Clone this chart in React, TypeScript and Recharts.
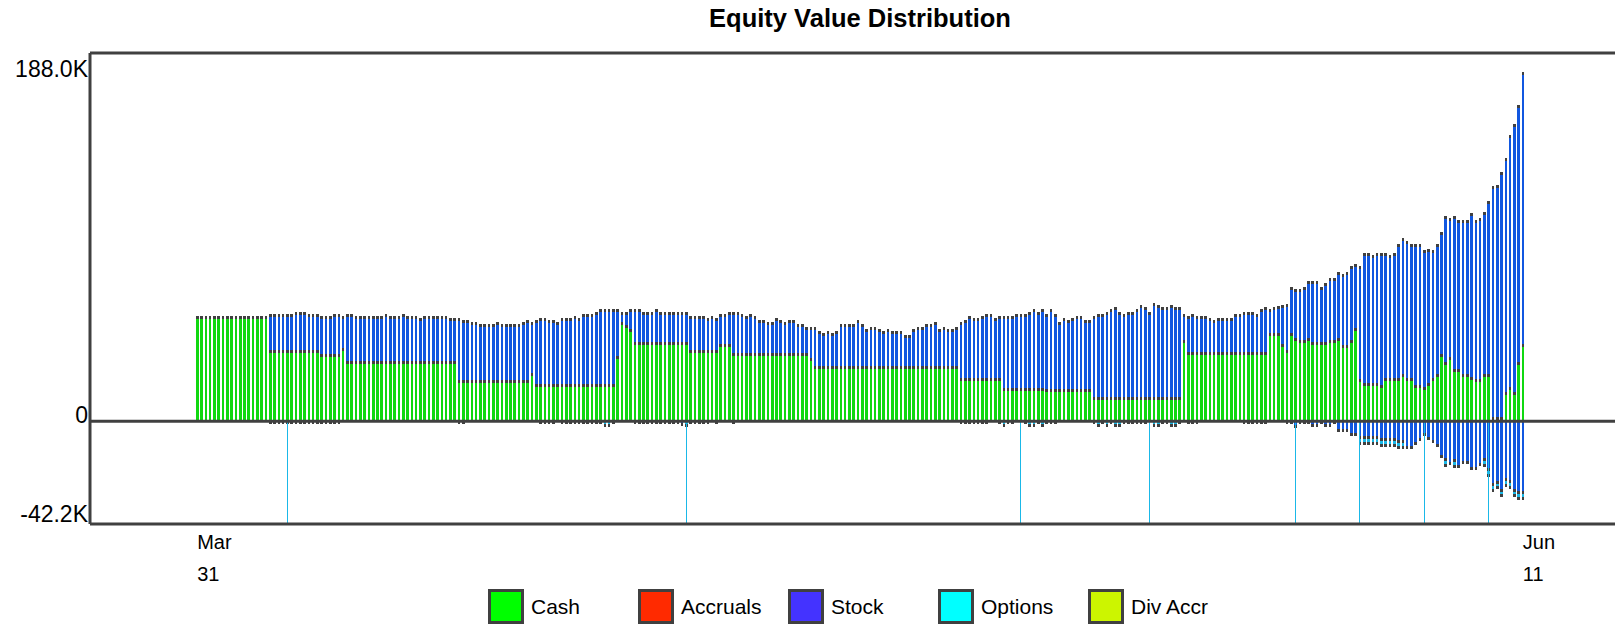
import { BarChart, Bar, XAxis, YAxis, ReferenceLine } from "recharts";

// values in thousands, one entry per bar (Mar 31 .. Jun 11)
const CASH = [
  56.6, 56.6, 56.6, 56.6, 56.6, 56.6, 56.6, 56.6, 56.6, 56.6, // 0
  56.6, 56.6, 56.6, 56.6, 56.6, 56.6, 56.6, 38.3, 38.3, 38.3, // 10
  38.3, 38.3, 38.3, 38.3, 38.3, 38.3, 38.3, 38.3, 38.3, 36.1, // 20
  36.1, 36.1, 36.1, 36.1, 39.4, 32.3, 32.3, 32.3, 32.3, 32.3, // 30
  32.3, 32.3, 32.3, 32.3, 32.3, 32.3, 32.3, 32.3, 32.3, 32.3, // 40
  32.3, 32.3, 32.3, 32.3, 32.3, 32.3, 32.3, 32.3, 32.3, 32.3, // 50
  32.3, 22.1, 22.1, 22.1, 22.1, 22.1, 22.1, 22.1, 22.1, 22.1, // 60
  22.1, 22.1, 22.1, 22.1, 22.1, 22.1, 22.1, 22.1, 25.9, 19.9, // 70
  19.9, 19.9, 19.9, 19.9, 19.9, 19.9, 19.9, 19.9, 19.9, 19.9, // 80
  19.9, 19.9, 19.9, 19.9, 19.9, 19.9, 19.9, 19.9, 35.0, 53.4, // 90
  52.0, 49.6, 42.8, 42.8, 42.8, 42.8, 42.8, 42.8, 42.8, 42.8, // 100
  42.8, 42.8, 42.8, 42.8, 42.8, 38.3, 38.3, 38.3, 38.3, 38.3, // 110
  38.3, 38.3, 41.5, 41.5, 41.5, 37.0, 37.0, 37.0, 37.0, 37.0, // 120
  37.0, 37.0, 37.0, 37.0, 37.0, 37.0, 37.0, 37.0, 37.0, 37.0, // 130
  37.0, 37.0, 37.0, 34.0, 29.6, 29.6, 29.6, 29.6, 29.6, 29.6, // 140
  29.6, 29.6, 29.6, 29.6, 29.6, 29.6, 29.6, 29.6, 29.6, 29.6, // 150
  29.6, 29.6, 29.6, 29.6, 29.6, 29.6, 29.6, 29.6, 29.6, 29.6, // 160
  29.6, 29.6, 29.6, 29.6, 29.6, 29.6, 29.6, 29.6, 23.2, 23.2, // 170
  23.2, 23.2, 23.2, 23.2, 23.2, 23.2, 23.2, 23.2, 17.8, 17.8, // 180
  17.8, 17.8, 17.8, 17.8, 17.8, 17.8, 17.8, 17.8, 17.5, 17.5, // 190
  17.5, 17.5, 17.5, 17.5, 17.5, 17.5, 17.5, 17.5, 17.5, 12.8, // 200
  12.8, 12.8, 12.8, 12.8, 12.8, 12.8, 12.8, 12.8, 12.8, 12.8, // 210
  12.8, 12.8, 12.8, 12.8, 12.8, 12.8, 12.8, 12.8, 12.8, 12.8, // 220
  43.7, 37.2, 37.2, 37.2, 37.2, 37.2, 37.2, 37.2, 37.2, 37.2, // 230
  37.2, 37.2, 37.2, 37.2, 37.2, 37.2, 37.2, 37.2, 37.2, 37.2, // 240
  47.4, 47.4, 47.4, 41.5, 38.3, 47.3, 44.9, 43.7, 43.7, 44.9, // 250
  42.8, 42.8, 42.8, 42.8, 43.7, 43.7, 44.9, 41.0, 41.0, 43.7, // 260
  50.5, 23.0, 20.8, 20.8, 20.8, 20.8, 19.4, 23.5, 23.5, 23.5, // 270
  23.5, 25.7, 23.5, 23.5, 19.4, 19.4, 18.5, 20.8, 23.5, 25.7, // 280
  36.5, 32.0, 34.7, 28.4, 28.4, 25.7, 25.7, 23.9, 23.0, 23.0, // 290
  25.7, 25.7, 2.3, 2.3, 2.3, 15.8, 18.5, 15.8, 32.0, 41.5, // 300
];

const STOCK = [
  0, 0, 0, 0, 0, 0, 0, 0, 0, 0, // 0
  0, 0, 0, 0, 0, 0, 0, 19.4, 19.4, 19.4, // 10
  19.4, 19.4, 19.4, 20.5, 20.5, 20.5, 19.4, 19.4, 19.4, 20.5, // 20
  20.5, 20.5, 21.6, 21.6, 17.2, 25.4, 25.4, 24.3, 24.3, 24.3, // 30
  24.3, 24.3, 24.3, 24.3, 25.4, 24.3, 24.3, 24.3, 25.4, 24.3, // 40
  24.3, 24.3, 23.2, 24.3, 24.3, 24.3, 24.3, 24.3, 24.3, 23.2, // 50
  23.2, 33.4, 32.3, 32.3, 31.3, 31.3, 30.2, 30.2, 30.2, 30.2, // 60
  31.3, 30.2, 30.2, 30.2, 30.2, 30.2, 31.3, 32.3, 27.5, 34.5, // 70
  35.6, 35.6, 34.5, 34.5, 33.5, 35.6, 35.6, 35.6, 36.7, 35.6, // 80
  37.8, 37.8, 37.8, 38.9, 40.5, 40.5, 40.5, 40.5, 25.4, 5.4, // 90
  6.8, 10.8, 17.6, 17.6, 16.0, 16.0, 16.0, 17.6, 16.0, 16.0, // 100
  16.0, 16.0, 16.0, 16.0, 16.0, 18.3, 18.3, 18.3, 18.3, 17.2, // 110
  18.3, 17.2, 16.2, 16.2, 17.3, 21.8, 21.8, 20.7, 19.6, 20.7, // 120
  19.6, 17.4, 17.4, 16.4, 16.4, 18.5, 17.4, 16.4, 17.4, 17.4, // 130
  15.3, 15.3, 13.7, 16.7, 21.1, 18.9, 17.8, 18.9, 17.8, 18.9, // 140
  22.7, 22.7, 22.7, 22.7, 24.8, 22.7, 20.0, 21.1, 21.1, 20.0, // 150
  18.9, 20.0, 18.9, 18.9, 18.9, 16.8, 16.8, 20.0, 21.1, 21.1, // 160
  22.7, 22.7, 23.8, 20.0, 21.1, 20.0, 20.0, 21.1, 30.2, 31.2, // 170
  33.4, 32.3, 32.3, 33.4, 34.5, 34.5, 32.3, 33.4, 38.8, 38.8, // 180
  38.8, 39.9, 39.9, 39.9, 41.0, 42.6, 41.0, 42.6, 40.2, 42.9, // 190
  40.2, 35.9, 38.0, 36.9, 38.0, 39.1, 39.1, 36.9, 36.9, 43.8, // 200
  44.9, 44.9, 46.0, 47.6, 48.7, 46.0, 44.9, 46.0, 46.0, 47.6, // 210
  49.7, 48.7, 46.0, 50.8, 49.7, 48.7, 48.7, 49.7, 48.7, 48.7, // 220
  14.0, 19.4, 20.5, 19.4, 19.4, 19.4, 18.3, 17.2, 18.3, 18.3, // 230
  18.3, 18.3, 20.5, 20.5, 21.6, 21.6, 21.6, 20.5, 23.2, 24.3, // 240
  13.1, 14.1, 14.6, 21.0, 25.1, 25.1, 26.6, 27.8, 28.7, 30.8, // 250
  32.9, 32.9, 29.6, 31.8, 33.7, 33.7, 35.8, 38.6, 39.7, 39.9, // 260
  34.1, 60.9, 70.1, 70.1, 69.0, 70.1, 71.5, 67.4, 66.3, 67.4, // 270
  72.3, 73.3, 73.4, 72.3, 76.4, 76.4, 73.7, 72.3, 68.7, 70.1, // 280
  65.5, 78.5, 74.6, 82.1, 80.0, 82.7, 82.7, 88.1, 85.4, 86.3, // 290
  87.1, 92.9, 124.7, 125.3, 132.3, 126.2, 135.7, 144.2, 138.3, 146.5, // 300
];

const STOCK_NEG = [
  0, 0, 0, 0, 0, 0, 0, 0, 0, 0, // 0
  0, 0, 0, 0, 0, 0, 0, -1.6, -1.6, -1.6, // 10
  -1.6, -1.6, -1.6, -1.6, -1.6, -1.6, -1.6, -1.6, -1.6, -1.6, // 20
  -1.6, -1.6, -1.6, -1.6, 0, 0, 0, 0, 0, 0, // 30
  0, 0, 0, 0, 0, 0, 0, 0, 0, 0, // 40
  0, 0, 0, 0, 0, 0, 0, 0, 0, 0, // 50
  0, -1.6, -1.6, 0, 0, 0, 0, 0, 0, 0, // 60
  0, 0, 0, 0, 0, 0, 0, 0, 0, 0, // 70
  -1.6, -1.6, -1.6, -1.6, 0, -1.6, -1.6, -1.6, -1.6, -1.6, // 80
  -1.6, -1.6, -1.6, -1.6, -1.6, 0, 0, -1.6, 0, 0, // 90
  0, 0, -1.6, -1.6, -1.6, -1.6, -1.6, -1.6, -1.6, -1.6, // 100
  -1.6, -1.6, -1.6, -2.5, 0, -1.6, -1.6, -1.6, -1.6, -1.6, // 110
  0, -1.6, 0, 0, 0, -1.6, 0, 0, 0, 0, // 120
  0, 0, 0, 0, 0, 0, 0, 0, 0, 0, // 130
  0, 0, 0, 0, 0, 0, 0, 0, 0, 0, // 140
  0, 0, 0, 0, 0, 0, 0, 0, 0, 0, // 150
  0, 0, 0, 0, 0, 0, 0, 0, 0, 0, // 160
  0, 0, 0, 0, 0, 0, 0, 0, -1.6, -1.6, // 170
  -1.6, -1.6, -1.6, -1.6, -1.6, 0, 0, -1.6, 0, -1.6, // 180
  -1.6, 0, 0, -1.6, 0, 0, -1.6, 0, -1.6, -1.6, // 190
  -1.6, 0, 0, 0, 0, 0, 0, 0, 0, -1.6, // 200
  0, -1.6, 0, -1.6, 0, 0, -1.6, -1.6, -1.6, -1.6, // 210
  -1.6, -1.6, 0, 0, 0, -1.6, -1.6, 0, 0, -1.6, // 220
  0, -1.6, -1.6, -1.6, 0, 0, 0, 0, 0, 0, // 230
  0, 0, 0, 0, -1.6, -1.6, -1.6, -1.6, -1.6, -1.6, // 240
  0, 0, 0, 0, -1.6, -1.6, -3.6, -1.6, -1.6, -1.6, // 250
  -3.2, -3.2, -1.6, -3.2, -3.2, -1.6, -5.7, -5.7, -5.7, -7.9, // 260
  -7.9, -9.7, -9.4, -9.4, -9.4, -9.4, -10.6, -10.6, -10.6, -10.6, // 270
  -11.7, -11.7, -14.9, -14.9, -12.6, -10.6, -7.9, -10.2, -11.5, -13.8, // 280
  -19.6, -21.4, -23.7, -21.8, -25.0, -22.8, -22.8, -26.4, -26.4, -24.3, // 290
  -21.4, -26.8, -34.9, -33.6, -37.9, -32.2, -33.1, -37.9, -39.0, -39.0, // 300
];

const OPTIONS = [
  0, 0, 0, 0, 0, 0, 0, 0, 0, 0, // 0
  0, 0, 0, 0, 0, 0, 0, 0, 0, 0, // 10
  0, 0, 0, 0, 0, 0, 0, 0, 0, 0, // 20
  0, 0, 0, 0, 0, 0, 0, 0, 0, 0, // 30
  0, 0, 0, 0, 0, 0, 0, 0, 0, 0, // 40
  0, 0, 0, 0, 0, 0, 0, 0, 0, 0, // 50
  0, 0, 0, 0, 0, 0, 0, 0, 0, 0, // 60
  0, 0, 0, 0, 0, 0, 0, 0, 0, 0, // 70
  0, 0, 0, 0, 0, 0, 0, 0, 0, 0, // 80
  0, 0, 0, 0, 0, -3.2, -3.2, 0, 0, 0, // 90
  0, 0, 0, 0, 0, 0, 0, 0, 0, 0, // 100
  0, 0, 0, 0, -3.2, 0, 0, 0, 0, 0, // 110
  0, 0, 0, 0, 0, 0, 0, 0, 0, 0, // 120
  0, 0, 0, 0, 0, 0, 0, 0, 0, 0, // 130
  0, 0, 0, 0, 0, 0, 0, 0, 0, 0, // 140
  0, 0, 0, 0, 0, 0, 0, 0, 0, 0, // 150
  0, 0, 0, 0, 0, 0, 0, 0, 0, 0, // 160
  0, 0, 0, 0, 0, 0, 0, 0, 0, 0, // 170
  0, 0, 0, 0, 0, 0, 0, 0, -3.2, 0, // 180
  0, 0, 0, 0, -3.2, -3.2, 0, -3.2, 0, 0, // 190
  0, 0, 0, 0, 0, 0, 0, 0, 0, 0, // 200
  -3.2, 0, -3.2, 0, -3.2, -3.2, 0, 0, 0, 0, // 210
  0, 0, 0, -3.2, -3.2, 0, 0, -3.2, -3.2, 0, // 220
  0, 0, 0, 0, 0, 0, 0, 0, 0, 0, // 230
  0, 0, 0, 0, 0, 0, 0, 0, 0, 0, // 240
  0, 0, 0, 0, 0, 0, 0, 0, 0, 0, // 250
  0, 0, 0, 0, 0, 0, 0, 0, 0, 0, // 260
  0, -3.2, -3.2, -3.2, -3.2, -3.2, -3.2, -3.2, -3.2, -3.2, // 270
  -3.2, -3.2, 0, 0, 0, 0, 0, 0, 0, 0, // 280
  0, -3.2, 0, -3.2, 0, 0, 0, 0, 0, 0, // 290
  -3.2, -3.2, -3.2, -3.2, -3.2, -3.2, -3.2, -3.2, -3.2, -3.2, // 300
];

// bars where the options value runs off the bottom of the axis
const EXPIRY_BARS = [21, 114, 192, 222, 256, 271, 286, 301];

const Y_TICKS = [-42.2, 0, 188.0];
const X_TICK_LABELS: Record<number, string[]> = { 0: ["Mar", "31"], 309: ["Jun", "11"] };

const LEGEND = [
  { name: "Cash", color: "#00ff00" },
  { name: "Accruals", color: "#ff2a00" },
  { name: "Stock", color: "#4433ff" },
  { name: "Options", color: "#00ffff" },
  { name: "Div Accr", color: "#ccf500" },
];

const Y_MIN = -55.4;
const Y_MAX = 198.5;
const FONT = "'Liberation Sans', Arial, Helvetica, sans-serif";
const DARK = "#404040";
const GREEN = "#10d810";
const BLUE = "#1157e0";
const CYAN = "#1ab8e8";
const FRAME = { stroke: DARK, strokeWidth: 3 };

const data = CASH.map((cash, i) => ({
  idx: i,
  cash,
  stock: STOCK[i],
  stockNeg: STOCK_NEG[i],
  options: OPTIONS[i],
}));

// a filled segment with a dark 3px edge at its outer end
const segment = (fill: string, down: boolean) => (props: any) => {
  const { x, y, width, height } = props;
  if (!height || !width) return <g />;
  const top = Math.min(y, y + height);
  const h = Math.abs(height);
  const cap = Math.min(3, h);
  return (
    <g shapeRendering="crispEdges">
      <rect x={x} y={top} width={width} height={h} fill={fill} />
      <rect x={x} y={down ? top + h - cap : top} width={width} height={cap} fill={DARK} />
    </g>
  );
};

const YTick = ({ x, y, payload }: any) => {
  const v = payload.value;
  const dy = v < 0 ? 22 : v === 0 ? 2 : 5;
  return (
    <text x={x} y={y} dy={dy} textAnchor="end" fontSize={23} fontFamily={FONT} fill="#000">
      {v === 0 ? "0" : `${v.toFixed(1)}K`}
    </text>
  );
};

const XTick = ({ x, y, payload }: any) => {
  const lines = X_TICK_LABELS[payload.value];
  if (!lines) return <g />;
  return (
    <text x={x} y={y} fontSize={20} fontFamily={FONT} fill="#000">
      <tspan x={x} dy={25}>{lines[0]}</tspan>
      <tspan x={x} dy={32}>{lines[1]}</tspan>
    </text>
  );
};

export default function App() {
  return (
    <div style={{ position: "relative", width: 1615, height: 626, overflow: "hidden" }}>
      <style>{"html,body{margin:0;overflow:hidden}"}</style>
      <BarChart
        width={1630}
        height={626}
        data={data}
        stackOffset="sign"
        barSize={2.6}
        margin={{ top: 53, right: 5, bottom: 42, left: 0 }}
      >
        <XAxis
          dataKey="idx"
          type="category"
          ticks={[0, 309]}
          interval={0}
          tick={<XTick />}
          tickLine={false}
          axisLine={FRAME}
          tickSize={0}
          tickMargin={0}
          height={60}
          padding={{ left: 105, right: 100 }}
        />
        <YAxis
          type="number"
          domain={[Y_MIN, Y_MAX]}
          allowDataOverflow
          ticks={Y_TICKS}
          tick={<YTick />}
          tickLine={false}
          axisLine={FRAME}
          tickSize={0}
          tickMargin={2}
          width={90}
        />
        <Bar dataKey="cash" stackId="a" fill={GREEN} shape={segment(GREEN, false)} isAnimationActive={false} />
        <Bar dataKey="stock" stackId="a" fill={BLUE} shape={segment(BLUE, false)} isAnimationActive={false} />
        <Bar dataKey="stockNeg" stackId="a" fill={BLUE} shape={segment(BLUE, true)} isAnimationActive={false} />
        <Bar dataKey="options" stackId="a" fill={CYAN} shape={segment(CYAN, true)} isAnimationActive={false} />
        {EXPIRY_BARS.map((i) => (
          <ReferenceLine
            key={i}
            segment={[{ x: i, y: 0 }, { x: i, y: Y_MIN }]}
            stroke={CYAN}
            strokeWidth={1}
            shapeRendering="crispEdges"
          />
        ))}
        <ReferenceLine y={0} stroke={DARK} strokeWidth={3} />
        <ReferenceLine y={Y_MAX} stroke={DARK} strokeWidth={3} />
      </BarChart>
      <svg width={1615} height={626} style={{ position: "absolute", left: 0, top: 0, pointerEvents: "none" }}>
        <text x={860} y={27} textAnchor="middle" fontSize={25.5} fontWeight="bold" fontFamily={FONT} fill="#000">
          Equity Value Distribution
        </text>
        {LEGEND.map((item, k) => (
          <g key={item.name}>
            <rect x={489.5 + k * 150} y={590.5} width={33} height={32} fill={item.color} stroke={DARK} strokeWidth={3} />
            <text x={531 + k * 150} y={614} fontSize={21} fontFamily={FONT} fill="#000">
              {item.name}
            </text>
          </g>
        ))}
      </svg>
    </div>
  );
}
